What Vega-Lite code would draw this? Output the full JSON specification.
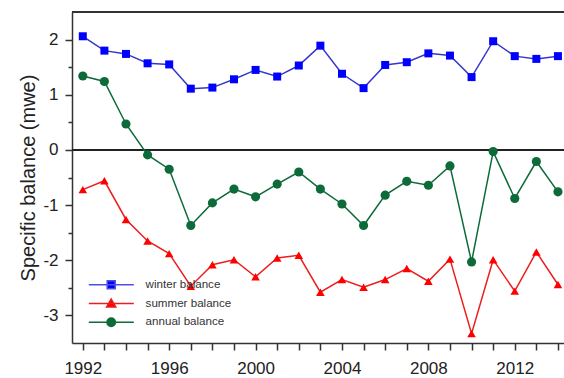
{
  "$schema": "https://vega.github.io/schema/vega-lite/v6.json",
  "width": 492,
  "height": 331,
  "autosize": "none",
  "padding": {"left": 72, "top": 12, "right": 0, "bottom": 35},
  "background": "white",
  "config": {
    "view": {"stroke": null},
    "font": "Liberation Sans",
    "axis": {"labelFont": "Liberation Sans", "titleFont": "Liberation Sans", "grid": false}
  },
  "data": {
    "values": [
      {"year": 1992, "series": "winter balance", "value": 2.06},
      {"year": 1993, "series": "winter balance", "value": 1.80},
      {"year": 1994, "series": "winter balance", "value": 1.74},
      {"year": 1995, "series": "winter balance", "value": 1.57},
      {"year": 1996, "series": "winter balance", "value": 1.55},
      {"year": 1997, "series": "winter balance", "value": 1.11},
      {"year": 1998, "series": "winter balance", "value": 1.13},
      {"year": 1999, "series": "winter balance", "value": 1.28},
      {"year": 2000, "series": "winter balance", "value": 1.45},
      {"year": 2001, "series": "winter balance", "value": 1.33},
      {"year": 2002, "series": "winter balance", "value": 1.53},
      {"year": 2003, "series": "winter balance", "value": 1.89},
      {"year": 2004, "series": "winter balance", "value": 1.38},
      {"year": 2005, "series": "winter balance", "value": 1.12},
      {"year": 2006, "series": "winter balance", "value": 1.54},
      {"year": 2007, "series": "winter balance", "value": 1.59},
      {"year": 2008, "series": "winter balance", "value": 1.75},
      {"year": 2009, "series": "winter balance", "value": 1.71},
      {"year": 2010, "series": "winter balance", "value": 1.32},
      {"year": 2011, "series": "winter balance", "value": 1.97},
      {"year": 2012, "series": "winter balance", "value": 1.70},
      {"year": 2013, "series": "winter balance", "value": 1.65},
      {"year": 2014, "series": "winter balance", "value": 1.70},
      {"year": 1992, "series": "summer balance", "value": -0.72},
      {"year": 1993, "series": "summer balance", "value": -0.56},
      {"year": 1994, "series": "summer balance", "value": -1.26},
      {"year": 1995, "series": "summer balance", "value": -1.65},
      {"year": 1996, "series": "summer balance", "value": -1.88},
      {"year": 1997, "series": "summer balance", "value": -2.47},
      {"year": 1998, "series": "summer balance", "value": -2.08},
      {"year": 1999, "series": "summer balance", "value": -1.99},
      {"year": 2000, "series": "summer balance", "value": -2.30},
      {"year": 2001, "series": "summer balance", "value": -1.96},
      {"year": 2002, "series": "summer balance", "value": -1.91},
      {"year": 2003, "series": "summer balance", "value": -2.58},
      {"year": 2004, "series": "summer balance", "value": -2.35},
      {"year": 2005, "series": "summer balance", "value": -2.49},
      {"year": 2006, "series": "summer balance", "value": -2.35},
      {"year": 2007, "series": "summer balance", "value": -2.15},
      {"year": 2008, "series": "summer balance", "value": -2.38},
      {"year": 2009, "series": "summer balance", "value": -1.98},
      {"year": 2010, "series": "summer balance", "value": -3.33},
      {"year": 2011, "series": "summer balance", "value": -1.99},
      {"year": 2012, "series": "summer balance", "value": -2.56},
      {"year": 2013, "series": "summer balance", "value": -1.85},
      {"year": 2014, "series": "summer balance", "value": -2.44},
      {"year": 1992, "series": "annual balance", "value": 1.34},
      {"year": 1993, "series": "annual balance", "value": 1.24},
      {"year": 1994, "series": "annual balance", "value": 0.47},
      {"year": 1995, "series": "annual balance", "value": -0.09},
      {"year": 1996, "series": "annual balance", "value": -0.35},
      {"year": 1997, "series": "annual balance", "value": -1.37},
      {"year": 1998, "series": "annual balance", "value": -0.96},
      {"year": 1999, "series": "annual balance", "value": -0.71},
      {"year": 2000, "series": "annual balance", "value": -0.85},
      {"year": 2001, "series": "annual balance", "value": -0.62},
      {"year": 2002, "series": "annual balance", "value": -0.40},
      {"year": 2003, "series": "annual balance", "value": -0.71},
      {"year": 2004, "series": "annual balance", "value": -0.98},
      {"year": 2005, "series": "annual balance", "value": -1.37},
      {"year": 2006, "series": "annual balance", "value": -0.82},
      {"year": 2007, "series": "annual balance", "value": -0.57},
      {"year": 2008, "series": "annual balance", "value": -0.64},
      {"year": 2009, "series": "annual balance", "value": -0.29},
      {"year": 2010, "series": "annual balance", "value": -2.03},
      {"year": 2011, "series": "annual balance", "value": -0.03},
      {"year": 2012, "series": "annual balance", "value": -0.88},
      {"year": 2013, "series": "annual balance", "value": -0.21},
      {"year": 2014, "series": "annual balance", "value": -0.76}
    ]
  },
  "encoding": {
    "x": {
      "field": "year",
      "type": "quantitative",
      "scale": {"domain": [1991.5, 2014.28], "nice": false, "zero": false},
      "axis": {
        "title": null,
        "values": [1992,1993,1994,1995,1996,1997,1998,1999,2000,2001,2002,2003,2004,2005,2006,2007,2008,2009,2010,2011,2012,2013,2014],
        "format": "d",
        "labelExpr": "datum.value % 4 === 0 ? datum.label : ''",
        "labelFontSize": 17,
        "labelColor": "#222",
        "labelPadding": 10,
        "tickSize": 7,
        "tickWidth": 1.5,
        "tickColor": "#333",
        "domainColor": "#333",
        "domainWidth": 1.5,
        "labelFlush": false,
        "labelOverlap": false
      }
    },
    "y": {
      "field": "value",
      "type": "quantitative",
      "scale": {"domain": [-3.5, 2.5], "nice": false, "zero": false},
      "axis": {
        "title": "Specific balance (mwe)",
        "titleFontSize": 20,
        "titleFontWeight": "normal",
        "titleColor": "#222",
        "titlePadding": 4,
        "values": [-3, -2.5, -2, -1.5, -1, -0.5, 0, 0.5, 1, 1.5, 2],
        "labelExpr": "datum.value % 1 === 0 ? toString(datum.value) : ''",
        "labelFontSize": 17,
        "labelColor": "#222",
        "labelPadding": 7,
        "tickSize": {"condition": {"test": "datum.value % 1 === 0", "value": 7}, "value": 4},
        "tickWidth": 1.5,
        "tickColor": "#333",
        "domainColor": "#333",
        "domainWidth": 1.5,
        "labelOverlap": false
      }
    }
  },
  "layer": [
    {
      "mark": {"type": "rule", "color": "#222", "strokeWidth": 1.2},
      "encoding": {"y": {"datum": 0}, "x": null}
    },
    {
      "mark": {"type": "rule", "color": "#333", "strokeWidth": 1.5},
      "encoding": {"y": {"datum": 2.5}, "x": null}
    },
    {
      "mark": {"type": "line"},
      "encoding": {
        "color": {
          "field": "series",
          "type": "nominal",
          "scale": {"domain": ["winter balance", "summer balance", "annual balance"], "range": ["#3636cc", "#ee1c1c", "#0d6b3a"]},
          "legend": null
        },
        "strokeWidth": {
          "field": "series",
          "type": "nominal",
          "scale": {"domain": ["winter balance", "summer balance", "annual balance"], "range": [1.5, 1.5, 2.2]},
          "legend": null
        }
      }
    },
    {
      "mark": {"type": "point", "filled": true, "opacity": 1},
      "encoding": {
        "color": {
          "field": "series",
          "type": "nominal",
          "scale": {"domain": ["winter balance", "summer balance", "annual balance"], "range": ["#0000ff", "#ff0000", "#0d6b3a"]},
          "legend": null
        },
        "shape": {
          "field": "series",
          "type": "nominal",
          "scale": {"domain": ["winter balance", "summer balance", "annual balance"], "range": ["square", "triangle-up", "circle"]},
          "legend": null
        },
        "size": {
          "field": "series",
          "type": "nominal",
          "scale": {"domain": ["winter balance", "summer balance", "annual balance"], "range": [64, 84, 64]},
          "legend": null
        }
      }
    },
    {
      "transform": [{"filter": "datum.year < 0"}],
      "mark": {"type": "point", "opacity": 1},
      "encoding": {
        "fill": {
          "field": "series",
          "type": "nominal",
          "scale": {"domain": ["winter balance", "summer balance", "annual balance"], "range": ["#0000ff", "#ff0000", "#0d6b3a"]}
        },
        "stroke": {
          "field": "series",
          "type": "nominal",
          "scale": {"domain": ["winter balance", "summer balance", "annual balance"], "range": ["#5050e0", "#ee1c1c", "#0d6b3a"]}
        },
        "shape": {
          "field": "series",
          "type": "nominal",
          "scale": {
            "domain": ["winter balance", "summer balance", "annual balance"],
            "range": [
              "M-1,0H10.25M3.6,-1H5.6V1H3.6Z",
              "M-1,0H10.25M4.6,-1.1L5.75,0.9H3.45Z",
              "M-1,0H10.25M3.55,0A1.05,1.05 0 1,0 5.65,0A1.05,1.05 0 1,0 3.55,0Z"
            ]
          },
          "legend": {
            "title": null,
            "orient": "none",
            "legendX": 15,
            "legendY": 267,
            "padding": 0,
            "symbolSize": 64,
            "symbolOpacity": 1,
            "symbolStrokeWidth": 1.5,
            "labelOffset": 47,
            "labelFontSize": 11.6,
            "labelColor": "#333",
            "labelFont": "Liberation Sans",
            "rowPadding": 3.7
          }
        }
      }
    }
  ],
  "resolve": {"scale": {"color": "independent", "shape": "independent", "fill": "independent", "stroke": "independent", "size": "independent"}}
}
